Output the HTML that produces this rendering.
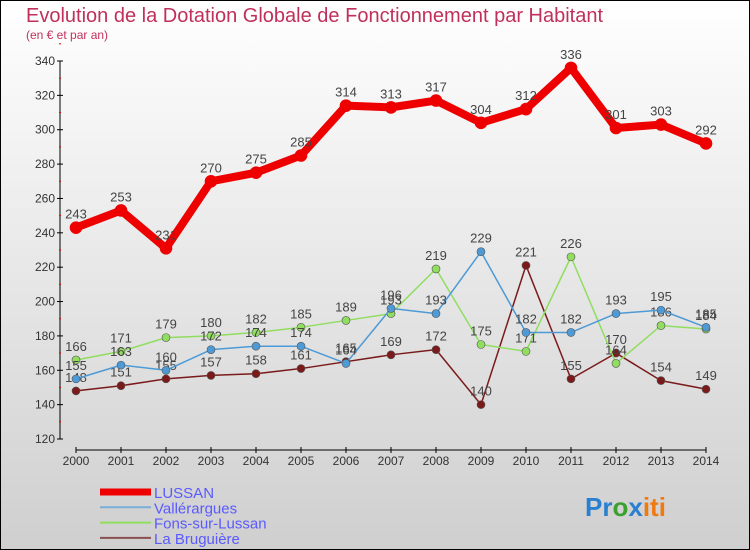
<!DOCTYPE html>
<html><head><meta charset="utf-8"><style>
body{margin:0}
#c{width:750px;height:550px;position:relative;overflow:hidden;font-family:"Liberation Sans",sans-serif}
svg text{font-family:"Liberation Sans",sans-serif}
</style></head><body>
<div id="c">
<svg id="s" width="750" height="550" xmlns="http://www.w3.org/2000/svg">
<defs><linearGradient id="bg" x1="0" y1="0" x2="0" y2="1"><stop offset="0" stop-color="#ffffff"/><stop offset="1" stop-color="#cfcfcf"/></linearGradient></defs>
<rect x="0.5" y="0.5" width="749" height="549" fill="url(#bg)" stroke="#000"/>
<text x="26" y="22" font-size="20" fill="#c0305a">Evolution de la Dotation Globale de Fonctionnement par Habitant</text>
<text x="26" y="39" font-size="12" fill="#c0305a">(en € et par an)</text>
<g id="axes"></g><g id="series"></g><g id="legend"></g>
<text x="585" y="516" font-size="26" font-weight="bold"><tspan fill="#2a7fd0">Pr</tspan><tspan fill="#3aa030">o</tspan><tspan fill="#2a7fd0">x</tspan><tspan fill="#f07a10">iti</tspan></text>
</svg></div>
<script>
const years=[2000,2001,2002,2003,2004,2005,2006,2007,2008,2009,2010,2011,2012,2013,2014];
const yTicks=[120,140,160,180,200,220,240,260,280,300,320,340];
const lussan=[243,253,231,270,275,285,314,313,317,304,312,336,301,303,292];
const vallerargues=[155,163,160,172,174,174,164,196,193,229,182,182,193,195,185];
const fons=[166,171,179,180,182,185,189,193,219,175,171,226,164,186,184];
const bruguiere=[148,151,155,157,158,161,165,169,172,140,221,155,170,154,149];
const NS="http://www.w3.org/2000/svg";
const X=i=>76+i*45;
const Y=v=>439-(v-120)*(378/220);
function mk(t,a,p){const e=document.createElementNS(NS,t);for(const k in a)e.setAttribute(k,a[k]);p.appendChild(e);return e;}
const ax=document.getElementById('axes');
let l=mk('line',{x1:60,y1:61,x2:60,y2:439,stroke:'#000','stroke-width':1},ax);


yTicks.forEach(v=>{
 mk('line',{x1:57,y1:Y(v),x2:63,y2:Y(v),stroke:'#000'},ax);
 const t=mk('text',{x:55,y:Y(v)+4,'text-anchor':'end','font-size':12,fill:'#333'},ax);t.textContent=v;
 
 
 mk('line',{x1:59,y1:Y(v+10),x2:61,y2:Y(v+10),stroke:'#e00'},ax);
});
l=mk('line',{x1:76,y1:450,x2:706,y2:450,stroke:'#000'},ax);


years.forEach((y,i)=>{
 mk('line',{x1:X(i),y1:447,x2:X(i),y2:453,stroke:'#000'},ax);
 const t=mk('text',{x:X(i),y:465,'text-anchor':'middle','font-size':12,fill:'#333'},ax);t.textContent=y;
 
 
});
const series=[
 {name:'La Bruguière',d:bruguiere,c:'#7a1a1a',w:1.5,r:4,id:'la-bruguiere'},
 {name:'Fons-sur-Lussan',d:fons,c:'#90dd60',w:1.5,r:4,id:'fons-sur-lussan'},
 {name:'Vallérargues',d:vallerargues,c:'#4d9ad6',w:1.5,r:4,id:'vallerargues'},
 {name:'LUSSAN',d:lussan,c:'#ee0000',w:8,r:6,id:'lussan'}];
const sg=document.getElementById('series');
series.forEach(s=>{
 const g=mk('g',{},sg);
 
 
 const p=mk('polyline',{points:s.d.map((v,i)=>X(i)+','+Y(v)).join(' '),fill:'none',stroke:s.c,'stroke-width':s.w,'stroke-linejoin':'round'},g);
 
 
 s.d.forEach((v,i)=>{
  const c=mk('circle',{cx:X(i),cy:Y(v),r:s.r,fill:s.c,stroke:s.w>2?s.c:'#555','stroke-width':0.6},g);
  
  
  const t=mk('text',{x:X(i),y:Y(v)-9,'text-anchor':'middle','font-size':13,fill:'#444'},g);t.textContent=v;
  
  
 });
});
const lg=document.getElementById('legend');
[{n:'LUSSAN',c:'#ee0000',w:7},{n:'Vallérargues',c:'#7aaed6',w:2},{n:'Fons-sur-Lussan',c:'#90dd60',w:2},{n:'La Bruguière',c:'#8a5050',w:2}].forEach((e,i)=>{
 const y=492+i*15.3;
 const g=mk('g',{},lg);
 
 
 mk('line',{x1:100,y1:y,x2:151,y2:y,stroke:e.c,'stroke-width':e.w},g);
 const t=mk('text',{x:154,y:y+6,'font-size':15,fill:'#5a5aff'},g);t.textContent=e.n;
});
</script>
</body></html>
